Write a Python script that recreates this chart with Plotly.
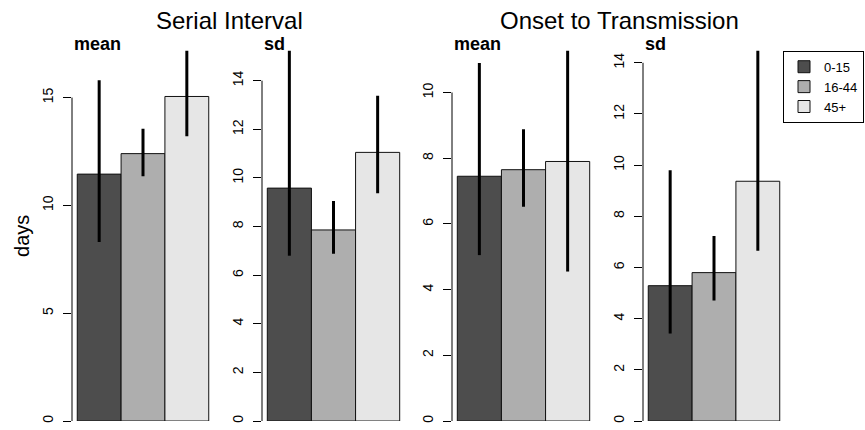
import plotly.graph_objects as go

# ---------------- data ----------------
groups = ["0-15", "16-44", "45+"]
colors = ["#4D4D4D", "#AEAEAE", "#E6E6E6"]

si_mean = [11.45, 12.4, 15.05]
si_mean_lo = [8.3, 11.35, 13.2]
si_mean_hi = [15.8, 13.55, 17.4]

si_sd = [9.58, 7.86, 11.05]
si_sd_lo = [6.8, 6.88, 9.37]
si_sd_hi = [15.8, 9.05, 13.38]

ot_mean = [7.45, 7.65, 7.9]
ot_mean_lo = [5.05, 6.52, 4.55]
ot_mean_hi = [10.9, 8.88, 11.6]

ot_sd = [5.29, 5.8, 9.37]
ot_sd_lo = [3.42, 4.71, 6.65]
ot_sd_hi = [9.8, 7.23, 15.0]

panel_labels = ["mean", "sd", "mean", "sd"]
panel_ticks = [[0, 5, 10, 15], [0, 2, 4, 6, 8, 10, 12, 14],
               [0, 2, 4, 6, 8, 10], [0, 2, 4, 6, 8, 10, 12, 14]]
panel_ymax = [17.17, 15.23, 11.27, 14.47]
main_titles = ["Serial Interval", "Onset to Transmission"]

panels = [
    (si_mean, si_mean_lo, si_mean_hi),
    (si_sd, si_sd_lo, si_sd_hi),
    (ot_mean, ot_mean_lo, ot_mean_hi),
    (ot_sd, ot_sd_lo, ot_sd_hi),
]

# ---------------- layout geometry ----------------
W, H = 865, 430
FONT = "Liberation Sans, Arial, Helvetica, sans-serif"
panel_px = [(72, 214), (262, 405), (452, 595), (643, 785)]
title_cx = [230, 619]
y_bottom_px, y_top_px = 423, 51
ydom = [(H - y_bottom_px) / H, (H - y_top_px) / H]
bar_x = [0.5, 1.5, 2.5]

fig = go.Figure()
layout = dict(
    width=W, height=H,
    margin=dict(l=0, r=0, t=0, b=0),
    paper_bgcolor="white", plot_bgcolor="white",
    barmode="overlay",
    font=dict(family=FONT, color="black"),
    showlegend=True,
    legend=dict(
        x=783 / W, y=(H - 51) / H, xanchor="left", yanchor="top",
        bordercolor="black", borderwidth=1, bgcolor="white",
        font=dict(size=13, family=FONT, color="black"),
        traceorder="normal",
    ),
)

shapes = []
annotations = []
for p, (vals, lo, hi) in enumerate(panels):
    k = "" if p == 0 else str(p + 1)
    xa, ya = "x" + k, "y" + k
    for g in range(3):
        fig.add_trace(go.Bar(
            x=[bar_x[g]], y=[vals[g]], width=1,
            marker=dict(color=colors[g], line=dict(color="#111111", width=1)),
            error_y=dict(type="data", symmetric=False,
                         array=[hi[g] - vals[g]], arrayminus=[vals[g] - lo[g]],
                         color="black", thickness=3, width=0),
            name=groups[g], legendgroup=groups[g], showlegend=(p == 0),
            xaxis=xa, yaxis=ya, hoverinfo="skip",
        ))
    x0, x1 = panel_px[p]
    layout["xaxis" + k] = dict(
        domain=[x0 / W, x1 / W], range=[-0.12, 3.12],
        showticklabels=False, ticks="", showgrid=False, zeroline=False,
        showline=False, anchor=ya, fixedrange=True,
    )
    layout["yaxis" + k] = dict(
        domain=ydom, range=[0, panel_ymax[p]], anchor=xa,
        tickmode="array", tickvals=panel_ticks[p],
        ticktext=[str(t) for t in panel_ticks[p]],
        ticks="outside", ticklen=8, tickwidth=1, tickcolor="black",
        ticklabelstandoff=4,
        tickangle=-90, tickfont=dict(size=14, family=FONT, color="black"),
        showgrid=False, zeroline=False, showline=False, fixedrange=True,
    )
    # R-style axis line spanning first to last tick
    shapes.append(dict(type="line", xref="paper", yref=ya,
                       x0=x0 / W, x1=x0 / W,
                       y0=panel_ticks[p][0], y1=panel_ticks[p][-1],
                       line=dict(color="black", width=1)))
    annotations.append(dict(
        text="<b>" + panel_labels[p] + "</b>", xref="paper", yref="paper",
        x=x0 / W, y=(H - 44) / H, xanchor="left", yanchor="middle",
        showarrow=False, font=dict(size=18, family=FONT, color="black"),
    ))

# main titles centred over panel pairs
for i, t in enumerate(main_titles):
    annotations.append(dict(
        text=t, xref="paper", yref="paper", x=title_cx[i] / W, y=(H - 21) / H,
        xanchor="center", yanchor="middle", showarrow=False,
        font=dict(size=24, family=FONT, color="black"),
    ))

annotations.append(dict(
    text="days", xref="paper", yref="paper", x=22 / W, y=(H - 237) / H,
    xanchor="center", yanchor="middle", textangle=-90, showarrow=False,
    font=dict(size=20, family=FONT, color="black"),
))

layout["shapes"] = shapes
layout["annotations"] = annotations
fig.update_layout(**layout)
fig.write_html("out.html",
               config={"displayModeBar": False, "staticPlot": True},
               post_script="document.body.style.margin='0';"
                           "document.body.style.padding='0';")
